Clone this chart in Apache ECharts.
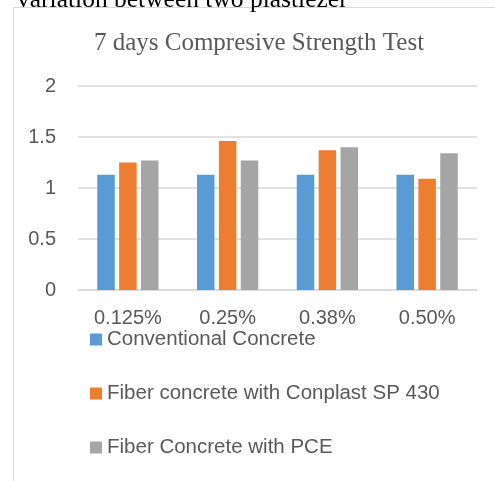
<!DOCTYPE html>
<html>
<head>
<meta charset="utf-8">
<script src="https://cdn.jsdelivr.net/npm/echarts@6/dist/echarts.min.js"></script>
<style>
html,body{margin:0;padding:0;background:#fff;}
#c{width:495px;height:481px;}
</style>
</head>
<body>
<div id="c"></div>
<script>
const categories = ['0.125%', '0.25%', '0.38%', '0.50%'];
const seriesNames = ['Conventional Concrete', 'Fiber concrete with Conplast SP 430', 'Fiber Concrete with PCE'];
const conventional = [1.13, 1.13, 1.13, 1.13];
const conplast = [1.25, 1.46, 1.37, 1.09];
const pce = [1.27, 1.27, 1.40, 1.34];
const yTicks = [0, 0.5, 1, 1.5, 2];
const colors = ['#5B9BD5', '#ED7D31', '#A5A5A5'];
const sans = '"Liberation Sans", Arial, sans-serif';
const serif = '"Liberation Serif", "Times New Roman", serif';

const chart = echarts.init(document.getElementById('c'), null, {renderer: 'canvas'});
const dataSets = [conventional, conplast, pce];
chart.setOption({
  animation: false,
  color: colors,
  graphic: [
    {type: 'rect', shape: {x: 13.5, y: 7.5, width: 520, height: 520}, style: {fill: 'none', stroke: '#D9D9D9', lineWidth: 1}, z: -1},
    {type: 'text', left: 17, top: -13, style: {text: 'variation between two plastiezer', font: '25.5px ' + serif, fill: '#000'}}
  ],
  title: {
    text: '7 days Compresive Strength Test',
    left: 254, top: 26, textAlign: 'center',
    textStyle: {fontFamily: serif, fontSize: 25, fontWeight: 'normal', color: '#595959'}
  },
  grid: {left: 78, right: 18, top: 86, height: 204, containLabel: false},
  legend: {
    orient: 'vertical', left: 90, top: 329, padding: 0,
    itemWidth: 12, itemHeight: 12, itemGap: 33,
    icon: 'rect',
    textStyle: {fontFamily: sans, fontSize: 20.5, color: '#595959', lineHeight: 20},
    data: seriesNames
  },
  xAxis: {
    type: 'category', data: categories,
    axisLine: {show: true, lineStyle: {color: '#D9D9D9', width: 1.5}},
    axisTick: {show: false},
    axisLabel: {fontFamily: sans, fontSize: 20, color: '#595959', margin: 18}
  },
  yAxis: {
    type: 'value', min: 0, max: 2, interval: 0.5,
    axisLine: {show: false}, axisTick: {show: false},
    splitLine: {lineStyle: {color: '#D9D9D9', width: 1.5}},
    axisLabel: {fontFamily: sans, fontSize: 20, color: '#595959', margin: 22,
      formatter: v => yTicks.includes(v) ? String(v) : ''}
  },
  series: dataSets.map((d, i) => ({
    name: seriesNames[i], type: 'bar', data: d,
    barWidth: 17.5, barGap: '25%',
    itemStyle: {color: colors[i]}
  }))
});
</script>
</body>
</html>
